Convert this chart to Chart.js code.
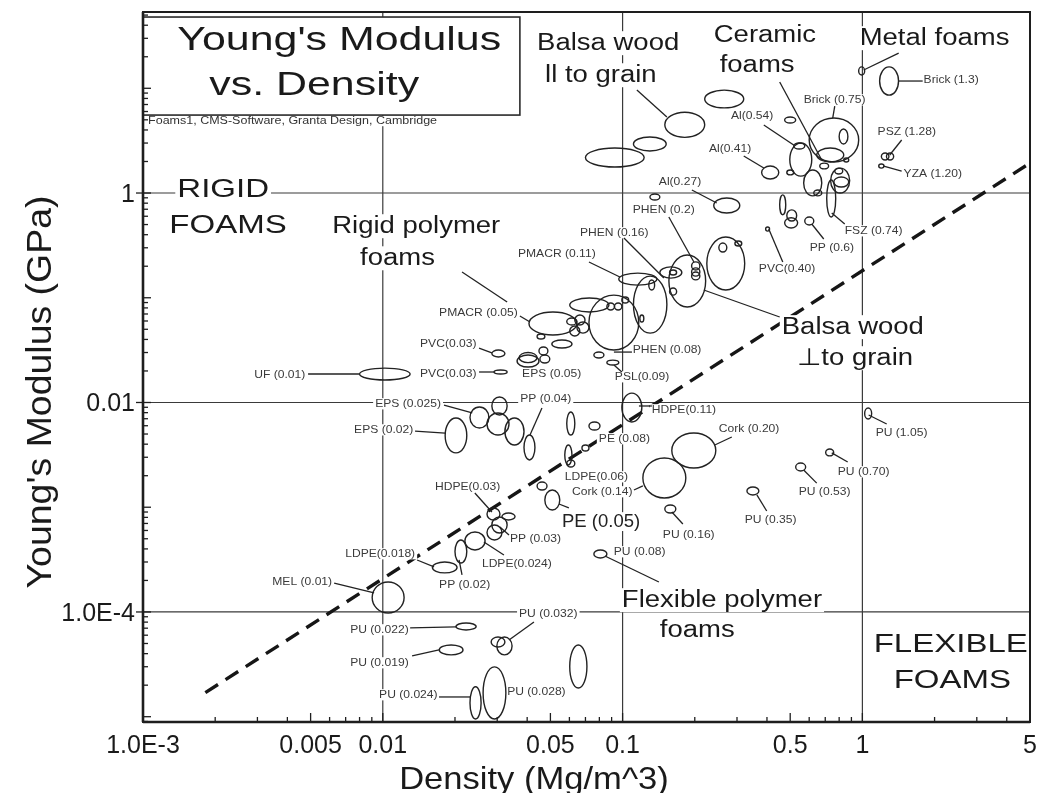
<!DOCTYPE html>
<html>
<head>
  <meta charset="UTF-8">
  <script src="https://cdn.jsdelivr.net/npm/chart.js@4.4.1/dist/chart.umd.min.js"></script>
  <style> body {padding: 0; margin: 0; background: #fff;} </style>
</head>
<body>

<canvas id="myChart" width="1040" height="793"></canvas>

<script>
// axis ranges: density (Mg/m^3) and Young's modulus (GPa)
var densityRange = [0.001, 5];
var modulusRange = [8.9e-6, 53.5];

var xTickValues = [0.001, 0.005, 0.01, 0.05, 0.1, 0.5, 1, 5];
var xTickLabels = ["1.0E-3", "0.005", "0.01", "0.05", "0.1", "0.5", "1", "5"];
var yTickValues = [1e-4, 0.01, 1];
var yTickLabels = ["1.0E-4", "0.01", "1"];
var gridX = [0.01, 0.1, 1];
var gridY = [1e-4, 0.01, 1];

// dashed guide line
var guideDensity = [0.00182, 5];
var guideModulus = [1.7e-5, 1.93];

// property bubbles: [density lo, density hi, modulus lo, modulus hi]
var bubbles = [
  [0.22, 0.32, 6.5, 9.6], [0.15, 0.22, 3.4, 5.9], [0.111, 0.152, 2.52, 3.43],
  [0.070, 0.123, 1.77, 2.69], [0.38, 0.448, 1.36, 1.81], [0.474, 0.527, 4.66, 5.32],
  [0.60, 0.965, 1.98, 5.2], [0.80, 0.87, 2.94, 4.09], [0.645, 0.836, 1.98, 2.69],
  [0.498, 0.615, 1.45, 3.0], [0.517, 0.575, 2.63, 3.0], [0.484, 0.517, 1.49, 1.66],
  [0.664, 0.723, 1.70, 1.93], [0.836, 0.877, 1.98, 2.16], [0.569, 0.677, 0.94, 1.66],
  [0.627, 0.677, 0.94, 1.07], [0.737, 0.885, 1.0, 1.73], [0.76, 0.877, 1.14, 1.42],
  [0.767, 0.828, 1.52, 1.73], [0.71, 0.774, 0.59, 1.33], [0.452, 0.479, 0.62, 0.96],
  [0.484, 0.532, 0.54, 0.69], [0.474, 0.537, 0.464, 0.58], [0.575, 0.627, 0.495, 0.59],
  [0.395, 0.41, 0.433, 0.474], [0.965, 1.022, 13.4, 16.0], [1.18, 1.415, 8.6, 16.0],
  [1.2, 1.29, 2.07, 2.41], [1.26, 1.35, 2.07, 2.41], [1.17, 1.23, 1.73, 1.89],
  [0.24, 0.308, 0.644, 0.896], [0.130, 0.143, 0.857, 0.978],
  [0.2245, 0.323, 0.1186, 0.380], [0.156, 0.222, 0.0817, 0.256], [0.111, 0.153, 0.046, 0.161],
  [0.0964, 0.139, 0.132, 0.172], [0.143, 0.1766, 0.154, 0.197], [0.157, 0.168, 0.165, 0.184],
  [0.194, 0.21, 0.184, 0.22], [0.194, 0.21, 0.161, 0.193], [0.194, 0.21, 0.148, 0.176],
  [0.252, 0.272, 0.273, 0.333], [0.294, 0.314, 0.312, 0.348], [0.157, 0.168, 0.106, 0.124],
  [0.1286, 0.136, 0.1186, 0.1477], [0.0724, 0.1168, 0.0317, 0.106], [0.0602, 0.0877, 0.0731, 0.0995],
  [0.086, 0.0925, 0.0764, 0.089], [0.0925, 0.0993, 0.0764, 0.089], [0.0993, 0.106, 0.089, 0.1017],
  [0.0407, 0.0645, 0.0441, 0.0731], [0.0585, 0.0645, 0.0549, 0.0641], [0.0632, 0.0697, 0.055, 0.0685],
  [0.0645, 0.0724, 0.046, 0.0587], [0.0602, 0.0663, 0.0431, 0.0538], [0.044, 0.0474, 0.0404, 0.0451],
  [0.0507, 0.0615, 0.0331, 0.0395], [0.0363, 0.0448, 0.0218, 0.0284], [0.037, 0.044, 0.024, 0.030],
  [0.0448, 0.0488, 0.0284, 0.0339], [0.0452, 0.0497, 0.0238, 0.0284], [0.0759, 0.0836, 0.0266, 0.0303],
  [0.086, 0.0964, 0.0228, 0.0254], [0.0285, 0.0323, 0.0272, 0.0317], [0.0291, 0.033, 0.0187, 0.0204],
  [0.118, 0.1226, 0.0587, 0.0685], [0.008, 0.013, 0.0164, 0.0213],
  [0.0231, 0.0277, 0.00571, 0.00906], [0.0285, 0.033, 0.0076, 0.0113], [0.0272, 0.0336, 0.00489, 0.00794],
  [0.0323, 0.0388, 0.00393, 0.00711], [0.0388, 0.0431, 0.002825, 0.00489], [0.0182, 0.0224, 0.0033, 0.00711],
  [0.0585, 0.0632, 0.00489, 0.00811], [0.0724, 0.0805, 0.00546, 0.00652], [0.0677, 0.0724, 0.00344, 0.00393],
  [0.0574, 0.0615, 0.00253, 0.00393], [0.0585, 0.0632, 0.00242, 0.002825], [0.044, 0.0484, 0.00146, 0.00174],
  [0.0474, 0.0547, 0.000941, 0.00146], [0.0272, 0.0308, 0.000755, 0.000984], [0.0314, 0.0356, 0.000755, 0.00088],
  [0.0285, 0.033, 0.000567, 0.000807], [0.0272, 0.0314, 0.000487, 0.000677], [0.022, 0.0267, 0.000391, 0.00058],
  [0.02, 0.0224, 0.000293, 0.000487], [0.0161, 0.0204, 0.000236, 0.0003], [0.0759, 0.086, 0.000328, 0.000391],
  [0.0993, 0.1203, 0.00652, 0.0123], [0.00903, 0.01227, 0.0000978, 0.000193],
  [0.1604, 0.2447, 0.00237, 0.00511], [0.1215, 0.1835, 0.001225, 0.002955], [0.150, 0.1667, 0.00088, 0.00105],
  [0.33, 0.37, 0.00131, 0.00156], [0.527, 0.58, 0.00222, 0.00264], [0.703, 0.759, 0.00309, 0.0036],
  [1.022, 1.093, 0.00696, 0.00886],
  [0.0202, 0.0245, 6.73e-5, 7.85e-5], [0.0172, 0.0216, 3.89e-5, 4.84e-5], [0.0283, 0.0323, 4.63e-5, 5.77e-5],
  [0.0299, 0.0346, 3.89e-5, 5.77e-5], [0.0231, 0.0257, 9.5e-6, 1.93e-5], [0.0262, 0.0326, 9.5e-6, 2.99e-5],
  [0.0602, 0.071, 1.88e-5, 4.84e-5]
];

// leader lines: [density1, modulus1, density2, modulus2]
var leaders = [
  [0.388, 4.46, 0.517, 2.87], [0.320, 2.256, 0.388, 1.733], [0.1945, 1.068, 0.247, 0.803],
  [0.767, 6.77, 0.752, 5.20], [1.417, 11.73, 1.784, 11.73], [1.458, 3.206, 1.300, 2.306],
  [1.227, 1.811, 1.458, 1.622], [1.417, 21.7, 1.0125, 14.94], [0.452, 11.47, 0.677, 2.065],
  [0.745, 0.644, 0.844, 0.506], [0.615, 0.506, 0.690, 0.364], [0.407, 0.453, 0.4655, 0.2195],
  [0.218, 0.1186, 0.452, 0.0655], [0.1147, 9.62, 0.153, 5.32], [0.1559, 0.590, 0.1983, 0.2195],
  [0.1013, 0.372, 0.1486, 0.1544], [0.0724, 0.2195, 0.0974, 0.1578], [0.0373, 0.0669, 0.0411, 0.0587],
  [0.0214, 0.1761, 0.033, 0.0911], [0.0252, 0.0331, 0.0285, 0.0297], [0.0252, 0.01955, 0.0291, 0.01955],
  [0.00488, 0.0187, 0.00797, 0.0187], [0.0180, 0.00946, 0.0236, 0.00794], [0.0461, 0.00886, 0.0411, 0.00489],
  [0.01363, 0.00534, 0.0182, 0.00511], [0.0597, 9.84e-4, 0.0543, 1.074e-3], [0.0242, 1.368e-3, 0.0285, 9.01e-4],
  [0.0336, 5.43e-4, 0.0308, 6.48e-4], [0.0320, 3.5e-4, 0.0264, 4.66e-4], [0.0214, 2.255e-4, 0.0208, 3.135e-4],
  [0.0139, 3.135e-4, 0.01636, 2.69e-4], [0.0844, 3.42e-4, 0.1417, 1.934e-4], [0.00627, 1.89e-4, 0.0092, 1.52e-4],
  [0.117, 0.00926, 0.1325, 0.00926], [0.2854, 0.00468, 0.2424, 0.00393], [1.062, 0.0076, 1.263, 0.00623],
  [0.745, 0.0033, 0.8685, 0.0027], [0.569, 0.00227, 0.645, 0.0017], [0.363, 0.00131, 0.399, 9.21e-4],
  [0.1605, 9.01e-4, 0.1784, 6.92e-4], [0.013, 7.04e-5, 0.0202, 7.19e-5], [0.01325, 3.8e-5, 0.01716, 4.34e-5],
  [0.01716, 1.543e-5, 0.0231, 1.543e-5], [0.0336, 5.4e-5, 0.0427, 8.03e-5], [0.1115, 0.00146, 0.1215, 0.0016],
  [0.092, 0.0303, 0.1094, 0.0303], [0.092, 0.0228, 0.0993, 0.01955]
];

// text labels: [text, density at left edge, modulus at baseline]
var titleLines = [["Young's Modulus", 0.00139, 23.2], ["vs. Density", 0.00189, 8.62]];
var titleBox = [0.001, 0.0373, 5.55, 47.9];
var creditLine = [["Foams1, CMS-Software, Granta Design, Cambridge", 0.00105, 4.56]];
var regionLabels = [
  ["RIGID", 0.00139, 0.916], ["FOAMS", 0.001287, 0.415],
  ["FLEXIBLE", 1.114, 4.15e-5], ["FOAMS", 1.35, 1.88e-5]
];
var groupLabels = [
  ["Balsa wood", 0.0440, 23.2], ["ll to grain", 0.0475, 11.47],
  ["Ceramic", 0.240, 27.6], ["foams", 0.254, 14.3],
  ["Metal foams", 0.974, 25.9],
  ["Rigid polymer", 0.00615, 0.415], ["foams", 0.00804, 0.205],
  ["Balsa wood", 0.461, 0.0451], ["\u22A5to grain", 0.5325, 0.0228],
  ["Flexible polymer", 0.0993, 1.116e-4], ["foams", 0.143, 5.77e-5]
];
var mediumLabels = [["PE (0.05)", 0.0559, 6.48e-4]];
var smallLabels = [
  ["Al(0.54)", 0.283, 5.09], ["Al(0.41)", 0.229, 2.46], ["Al(0.27)", 0.1416, 1.19],
  ["Brick (0.75)", 0.569, 7.23], ["Brick (1.3)", 1.80, 11.2], ["PSZ (1.28)", 1.157, 3.58],
  ["YZA (1.20)", 1.485, 1.42], ["FSZ (0.74)", 0.844, 0.406], ["PP (0.6)", 0.603, 0.279],
  ["PVC(0.40)", 0.37, 0.176], ["PHEN (0.2)", 0.1103, 0.644], ["PHEN (0.16)", 0.0664, 0.389],
  ["PMACR (0.11)", 0.0366, 0.245], ["PMACR (0.05)", 0.01717, 0.067], ["PVC(0.03)", 0.0143, 0.0339],
  ["PVC(0.03)", 0.0143, 0.0175], ["EPS (0.05)", 0.0381, 0.0175], ["PSL(0.09)", 0.0928, 0.0164],
  ["PHEN (0.08)", 0.1103, 0.0297], ["UF (0.01)", 0.00291, 0.0171], ["EPS (0.025)", 0.00929, 0.00906],
  ["PP (0.04)", 0.0374, 0.01], ["EPS (0.02)", 0.00759, 0.00511], ["PE (0.08)", 0.0796, 0.0042],
  ["LDPE(0.06)", 0.0574, 0.00182], ["Cork (0.14)", 0.0615, 0.00131], ["HDPE(0.03)", 0.0165, 0.00146],
  ["PP (0.03)", 0.0339, 4.66e-4], ["LDPE(0.024)", 0.0259, 2.69e-4], ["PP (0.02)", 0.01717, 1.70e-4],
  ["LDPE(0.018)", 0.00697, 3.35e-4], ["PU (0.08)", 0.0919, 3.5e-4], ["MEL (0.01)", 0.00346, 1.81e-4],
  ["HDPE(0.11)", 0.1324, 0.00794], ["Cork (0.20)", 0.252, 0.00523], ["PU (1.05)", 1.136, 0.00479],
  ["PU (0.70)", 0.789, 0.00203], ["PU (0.53)", 0.5425, 0.00131], ["PU (0.35)", 0.323, 7.07e-4],
  ["PU (0.16)", 0.1472, 5.08e-4], ["PU (0.032)", 0.037, 8.96e-5], ["PU (0.022)", 0.00731, 6.3e-5],
  ["PU (0.019)", 0.00731, 3.05e-5], ["PU (0.024)", 0.00965, 1.51e-5], ["PU (0.028)", 0.033, 1.61e-5]
];

var FONT = '"Liberation Sans", Arial, sans-serif';

// size, horizontal stretch, colour for each kind of text
var textStyles = [
  {items: titleLines, size: 33, sx: 1.3, color: '#1a1a1a'},
  {items: creditLine, size: 10, sx: 1.25, color: '#333'},
  {items: regionLabels, size: 26, sx: 1.27, color: '#1a1a1a'},
  {items: groupLabels, size: 23.5, sx: 1.17, color: '#1a1a1a'},
  {items: mediumLabels, size: 18.5, sx: 1.0, color: '#222'},
  {items: smallLabels, size: 11, sx: 1.1, color: '#3a3a3a'}
];

function textWidth(c, t, size, sx) {
  c.font = size + 'px ' + FONT;
  return c.measureText(t).width * sx;
}

function line(c, x1, y1, x2, y2) {
  c.beginPath(); c.moveTo(x1, y1); c.lineTo(x2, y2); c.stroke();
}

var foamPlugin = {
  id: 'foamPlugin',
  beforeDatasetsDraw: function(chart) {
    var c = chart.ctx, xs = chart.scales.x, ys = chart.scales.y, a = chart.chartArea;
    c.save();
    c.strokeStyle = '#3a3a3a';
    c.lineWidth = 1.2;
    gridX.forEach(function(v) {
      var p = xs.getPixelForValue(v);
      line(c, p, a.top, p, a.bottom);
    });
    gridY.forEach(function(v) {
      var p = ys.getPixelForValue(v);
      line(c, a.left, p, a.right, p);
    });
    c.restore();
  },
  afterDatasetsDraw: function(chart) {
    var c = chart.ctx, xs = chart.scales.x, ys = chart.scales.y, a = chart.chartArea;
    var X = function(v) { return xs.getPixelForValue(v); };
    var Y = function(v) { return ys.getPixelForValue(v); };
    c.save();

    // white backing behind every text so grid lines break there
    c.fillStyle = '#fff';
    textStyles.forEach(function(st) {
      st.items.forEach(function(it) {
        var w = textWidth(c, it[0], st.size, st.sx);
        c.fillRect(X(it[1]) - 2, Y(it[2]) - st.size * 0.8, w + 4, st.size * 1.02);
      });
    });

    // title box
    var bx1 = X(titleBox[0]), bx2 = X(titleBox[1]), by1 = Y(titleBox[3]), by2 = Y(titleBox[2]);
    c.fillRect(bx1, by1, bx2 - bx1, by2 - by1);
    c.strokeStyle = '#2a2a2a';
    c.lineWidth = 1.6;
    c.strokeRect(bx1, by1, bx2 - bx1, by2 - by1);

    // bubbles
    c.strokeStyle = '#222';
    c.lineWidth = 1.4;
    bubbles.forEach(function(b) {
      var x1 = X(b[0]), x2 = X(b[1]), y1 = Y(b[3]), y2 = Y(b[2]);
      c.beginPath();
      c.ellipse((x1 + x2) / 2, (y1 + y2) / 2, Math.abs(x2 - x1) / 2, Math.abs(y2 - y1) / 2, 0, 0, Math.PI * 2);
      c.stroke();
    });

    // leader lines
    c.lineWidth = 1.3;
    leaders.forEach(function(l) {
      line(c, X(l[0]), Y(l[1]), X(l[2]), Y(l[3]));
    });

    // texts
    c.textAlign = 'left';
    c.textBaseline = 'alphabetic';
    textStyles.forEach(function(st) {
      c.font = st.size + 'px ' + FONT;
      c.fillStyle = st.color;
      st.items.forEach(function(it) {
        c.save();
        c.translate(X(it[1]), Y(it[2]));
        c.scale(st.sx, 1);
        c.fillText(it[0], 0, 0);
        c.restore();
      });
    });

    // frame
    c.strokeStyle = '#1e1e1e';
    c.lineWidth = 2;
    c.strokeRect(a.left, a.top, a.right - a.left, a.bottom - a.top);
    c.lineWidth = 2.6;
    line(c, a.left, a.top, a.left, a.bottom);
    line(c, a.left, a.bottom, a.right, a.bottom);

    // minor and major ticks, pointing inward
    c.lineWidth = 1.3;
    for (var n = -6; n <= 1; n++) {
      for (var m = 1; m <= 9; m++) {
        var v = m * Math.pow(10, n);
        if (v > densityRange[0] * 1.001 && v < densityRange[1] * 1.001) {
          var px = X(v);
          var long = xTickValues.some(function(t) { return Math.abs(t / v - 1) < 1e-6; });
          line(c, px, a.bottom, px, a.bottom - (long ? 9 : 5));
        }
        if (v > modulusRange[0] && v < modulusRange[1]) {
          var py = Y(v);
          line(c, a.left, py, a.left + (m === 1 ? 8 : 5), py);
        }
      }
    }
    yTickValues.forEach(function(v) {
      var py = Y(v);
      line(c, a.left - 7, py, a.left, py);
    });

    // tick labels
    c.fillStyle = '#1a1a1a';
    c.font = '25px ' + FONT;
    c.textAlign = 'center';
    xTickValues.forEach(function(v, i) {
      c.fillText(xTickLabels[i], X(v), 753);
    });
    c.textAlign = 'right';
    yTickValues.forEach(function(v, i) {
      c.fillText(yTickLabels[i], a.left - 8, Y(v) + 9);
    });

    // axis titles
    c.font = '32px ' + FONT;
    c.textAlign = 'center';
    c.save();
    c.translate(534, 789);
    c.scale(1.08, 1);
    c.fillText('Density (Mg/m^3)', 0, 0);
    c.restore();
    c.save();
    c.translate(51, 392);
    c.rotate(-Math.PI / 2);
    c.scale(1.17, 1.12);
    c.fillText("Young's Modulus (GPa)", 0, 0);
    c.restore();

    c.restore();
  }
};

var guidePoints = guideDensity.map(function(d, i) { return {x: d, y: guideModulus[i]}; });

var ctx = document.getElementById('myChart').getContext('2d');
var myChart = new Chart(ctx, {
  type: 'scatter',
  data: {
    datasets: [{
      data: guidePoints,
      showLine: true,
      borderColor: '#161616',
      borderWidth: 3.4,
      borderDash: [15, 9],
      pointRadius: 0,
      fill: false
    }]
  },
  options: {
    responsive: false,
    animation: false,
    devicePixelRatio: 1,
    layout: {padding: {left: 143, right: 10, top: 12, bottom: 71}},
    plugins: {legend: {display: false}, tooltip: {enabled: false}},
    scales: {
      x: {type: 'logarithmic', min: densityRange[0], max: densityRange[1], display: false},
      y: {type: 'logarithmic', min: modulusRange[0], max: modulusRange[1], display: false}
    }
  },
  plugins: [foamPlugin]
});
</script>
</body>
</html>
